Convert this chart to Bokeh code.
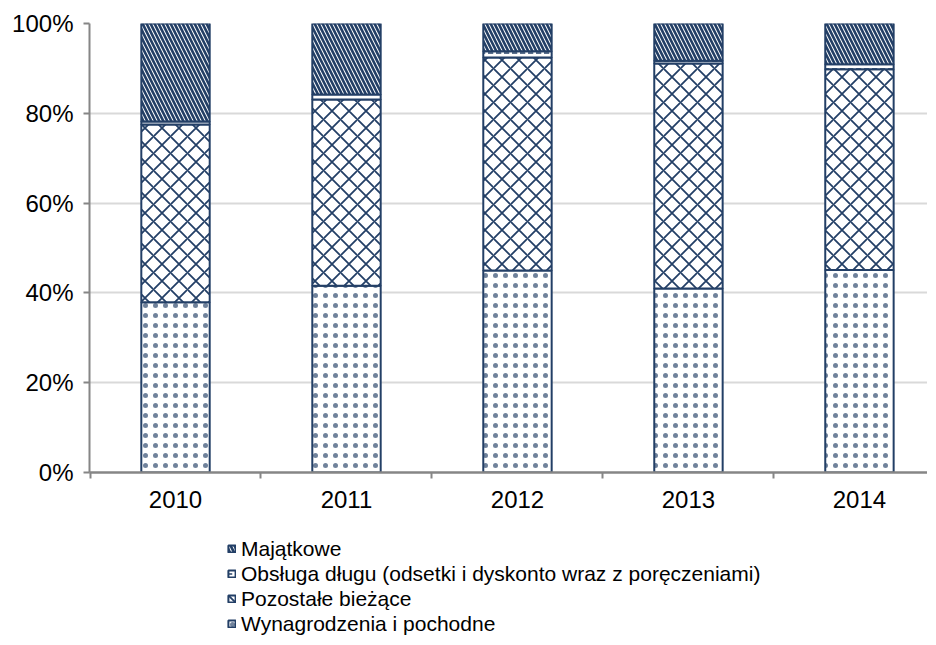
from bokeh.plotting import figure
from bokeh.layouts import column
from bokeh.models import ColumnDataSource, Range1d, FixedTicker, Legend, LegendItem
from bokeh.embed import file_html
from bokeh.resources import INLINE

years = ["2010", "2011", "2012", "2013", "2014"]
wynagrodzenia = [37.9, 41.6, 45.0, 41.0, 45.1]
pozostale = [39.6, 41.5, 47.4, 50.1, 44.7]
obsluga = [0.7, 1.1, 1.4, 0.6, 1.1]
majatkowe = [21.8, 15.8, 6.2, 8.3, 9.1]
series_names = [
    "Wynagrodzenia i pochodne",
    "Pozostałe bieżące",
    "Obsługa długu (odsetki i dyskonto wraz z poręczeniami)",
    "Majątkowe",
]
y_ticks = [0, 20, 40, 60, 80, 100]

NAVY = "#233F66"
AXIS = "#868686"
GRID = "#D9D9D9"
FONT = "Liberation Sans"

xs = list(range(len(years)))
stack_cols = ["wyn", "poz", "obs", "maj"]
source = ColumnDataSource(dict(
    x=xs,
    wyn=wynagrodzenia,
    poz=pozostale,
    obs=obsluga,
    maj=majatkowe,
))
# legend-only proxy (a single undefined row: nothing is drawn, only the legend swatches)
nan = float("nan")
legend_source = ColumnDataSource(dict(x=[nan], wyn=[nan], poz=[nan], obs=[nan], maj=[nan]))

styles = [
    dict(hatch_pattern="dot", hatch_scale=10, hatch_weight=1, hatch_alpha=0.65),
    dict(hatch_pattern="diagonal_cross", hatch_scale=17, hatch_weight=1.8, hatch_alpha=1.0),
    dict(hatch_pattern="horizontal_dash", hatch_scale=8, hatch_weight=1.5, hatch_alpha=1.0),
    dict(hatch_pattern="left_diagonal_line", hatch_scale=8, hatch_weight=2.6, hatch_alpha=1.0),
]


def add_bars(fig, src):
    return fig.vbar_stack(
        stack_cols, x="x", width=0.4, source=src,
        fill_color="white", line_color=NAVY, line_width=2,
        hatch_color=NAVY,
        hatch_pattern=[s["hatch_pattern"] for s in styles],
        hatch_scale=[s["hatch_scale"] for s in styles],
        hatch_weight=[s["hatch_weight"] for s in styles],
        hatch_alpha=[s["hatch_alpha"] for s in styles],
    )


p = figure(
    width=927, height=517,
    output_backend="svg", toolbar_location=None,
    x_range=Range1d(-0.503, 4.398), y_range=Range1d(0, 100),
    min_border_left=89, min_border_right=0, min_border_top=23, min_border_bottom=45,
)
p.outline_line_color = None
p.background_fill_color = "white"
p.border_fill_color = "white"

add_bars(p, source)

p.xgrid.grid_line_color = None
p.ygrid.grid_line_color = GRID
p.ygrid.grid_line_width = 2
p.ygrid.ticker = FixedTicker(ticks=y_ticks)

p.yaxis.ticker = FixedTicker(ticks=y_ticks)
p.yaxis.major_label_overrides = {t: f"{t}%" for t in y_ticks}
p.yaxis.axis_line_color = AXIS
p.yaxis.axis_line_width = 2
p.yaxis.major_tick_line_color = AXIS
p.yaxis.major_tick_line_width = 2
p.yaxis.major_tick_in = 0
p.yaxis.major_tick_out = 6
p.yaxis.minor_tick_line_color = None
p.yaxis.major_label_text_font = FONT
p.yaxis.major_label_text_font_size = "24px"
p.yaxis.major_label_text_color = "black"
p.yaxis.major_label_standoff = 10

p.xaxis.ticker = FixedTicker(ticks=xs, minor_ticks=[i - 0.5 for i in xs] + [len(xs) - 0.5])
p.xaxis.major_label_overrides = {i: y for i, y in zip(xs, years)}
p.xaxis.axis_line_color = AXIS
p.xaxis.axis_line_width = 2.5
p.xaxis.major_tick_line_color = None
p.xaxis.major_tick_in = 0
p.xaxis.major_tick_out = 0
p.xaxis.minor_tick_line_color = AXIS
p.xaxis.minor_tick_line_width = 2
p.xaxis.minor_tick_in = 0
p.xaxis.minor_tick_out = 6
p.xaxis.major_label_text_font = FONT
p.xaxis.major_label_text_font_size = "24px"
p.xaxis.major_label_text_color = "black"
p.xaxis.major_label_standoff = 12

# legend panel below the chart
lg = figure(
    width=927, height=119,
    output_backend="svg", toolbar_location=None,
    x_range=Range1d(-0.503, 4.398), y_range=Range1d(0, 100),
    min_border_left=0, min_border_right=0, min_border_top=0, min_border_bottom=0,
)
lg.axis.visible = False
lg.grid.visible = False
lg.outline_line_color = None
lr = add_bars(lg, legend_source)

items = [LegendItem(label=series_names[i], renderers=[lr[i]]) for i in [3, 2, 1, 0]]
legend = Legend(
    items=items, location=(138, 0), orientation="vertical",
    label_text_font=FONT, label_text_font_size="21px", label_text_color="black",
    glyph_width=9, glyph_height=9, label_standoff=5, spacing=0,
    padding=0, margin=0, border_line_color=None, background_fill_alpha=0,
    label_height=25,
)
lg.add_layout(legend, "center")

layout = column(p, lg, spacing=0)
open("out.html", "w").write(file_html(layout, INLINE))
